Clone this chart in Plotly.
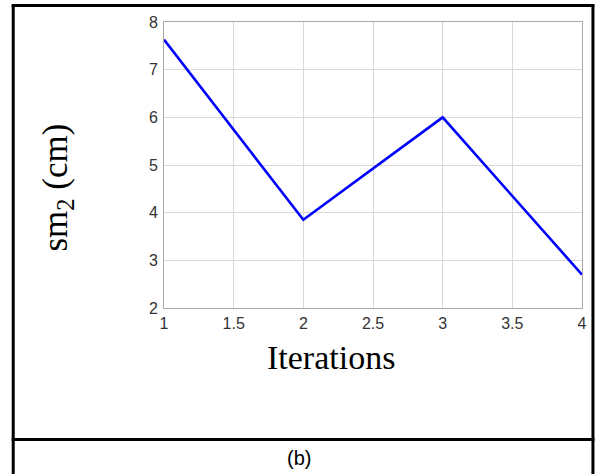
import plotly.graph_objects as go

# Data
iterations = [1, 2, 3, 4]
sm2_values = [7.63, 3.85, 6.0, 2.7]
x_ticks = [1, 1.5, 2, 2.5, 3, 3.5, 4]
x_tick_labels = ["1", "1.5", "2", "2.5", "3", "3.5", "4"]
y_ticks = [2, 3, 4, 5, 6, 7, 8]
y_tick_labels = ["2", "3", "4", "5", "6", "7", "8"]

W, H = 599, 474
L, R, T, B = 164, 15, 22, 166
PW, PH = W - L - R, H - T - B


def px(X):
    return (X - L) / PW


def py(Y):
    return (H - B - Y) / PH


fig = go.Figure()
fig.add_trace(go.Scatter(
    x=iterations, y=sm2_values, mode="lines",
    line=dict(color="#0000ff", width=2.6), hoverinfo="skip", showlegend=False,
))

tick_font = dict(family="Liberation Sans, Arial, sans-serif", size=16, color="#333333")

fig.update_xaxes(
    range=[1, 4], tickvals=x_ticks, ticktext=x_tick_labels,
    showgrid=True, gridcolor="#d8d8d8", gridwidth=1,
    showline=True, linecolor="#a8a8a8", linewidth=1, mirror=True,
    ticks="", tickfont=tick_font, ticklabelstandoff=1, zeroline=False,
)
fig.update_yaxes(
    range=[2, 8], tickvals=y_ticks, ticktext=y_tick_labels,
    showgrid=True, gridcolor="#d8d8d8", gridwidth=1,
    showline=True, linecolor="#a8a8a8", linewidth=1, mirror=True,
    ticks="", tickfont=tick_font, ticklabelstandoff=2, zeroline=False,
)

serif = "Liberation Serif, Times New Roman, serif"
annotations = [
    dict(text="sm<sub>2</sub> (cm)", x=px(56), y=py(188), xref="paper", yref="paper",
         textangle=-90, showarrow=False, font=dict(family=serif, size=35, color="#000000"),
         xanchor="center", yanchor="middle"),
    dict(text="Iterations", x=px(332), y=py(357), xref="paper", yref="paper",
         showarrow=False, font=dict(family=serif, size=34, color="#000000"),
         xanchor="center", yanchor="middle"),
    dict(text="(b)", x=px(300), y=py(458), xref="paper", yref="paper",
         showarrow=False, font=dict(family="Liberation Sans, Arial, sans-serif", size=20, color="#000000"),
         xanchor="center", yanchor="middle"),
]

frame = dict(color="#000000", width=3)
shapes = [
    dict(type="line", xref="paper", yref="paper", x0=px(12.5), x1=px(12.5), y0=py(5), y1=py(476), line=frame),
    dict(type="line", xref="paper", yref="paper", x0=px(595), x1=px(595), y0=py(5), y1=py(476), line=frame),
    dict(type="line", xref="paper", yref="paper", x0=px(11), x1=px(596.5), y0=py(5.5), y1=py(5.5), line=frame),
    dict(type="line", xref="paper", yref="paper", x0=px(11), x1=px(596.5), y0=py(439.5), y1=py(439.5), line=frame),
]

fig.update_layout(
    width=W, height=H, autosize=False,
    margin=dict(l=L, r=R, t=T, b=B, pad=0),
    paper_bgcolor="#ffffff", plot_bgcolor="#ffffff",
    annotations=annotations, shapes=shapes,
)

fig.write_html("out.html", config={"displayModeBar": False})
